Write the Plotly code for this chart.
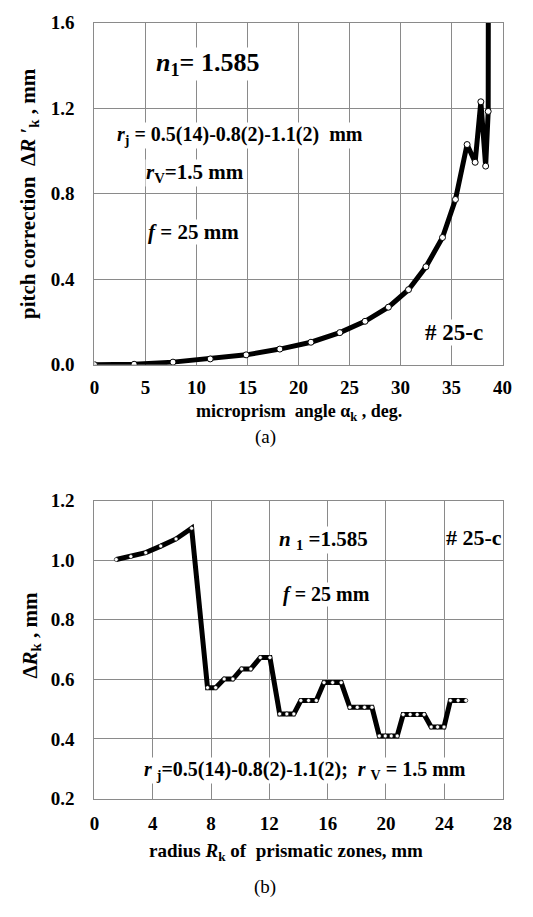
import plotly.graph_objects as go

# ---------------- data ----------------
# (a) pitch correction vs microprism angle
alpha_deg = [0, 3.89, 7.7, 11.35, 14.87, 18.17, 21.22, 24.05, 26.52, 28.81, 30.78,
             32.49, 34.11, 35.38, 36.52, 37.31, 37.87, 38.34, 38.59, 38.62]
pitch_corr = [0.0, 0.002, 0.012, 0.027, 0.046, 0.073, 0.105, 0.150, 0.203, 0.269, 0.351,
              0.458, 0.595, 0.773, 1.030, 0.947, 1.230, 0.929, 1.185, 2.4]

# (b) pitch vs radius of prismatic zones
radius_R = [1.5, 2.5, 3.52, 4.55, 5.6, 6.67, 7.76, 8.32, 8.9, 9.5, 10.1, 10.73, 11.38,
            12.04, 12.71, 13.2, 13.68, 14.16, 14.69, 15.22, 15.75, 16.34, 16.93, 17.52,
            18.03, 18.53, 19.04, 19.54, 19.95, 20.36, 20.77, 21.18, 21.66, 22.14, 22.62,
            23.1, 23.54, 23.98, 24.42, 24.95, 25.48]
delta_R = [1.002, 1.012, 1.025, 1.047, 1.071, 1.107, 0.572, 0.572, 0.601, 0.601, 0.635,
           0.635, 0.673, 0.673, 0.484, 0.484, 0.484, 0.529, 0.529, 0.529, 0.589, 0.589,
           0.589, 0.506, 0.506, 0.506, 0.506, 0.41, 0.41, 0.41, 0.41, 0.482, 0.482,
           0.482, 0.482, 0.44, 0.44, 0.44, 0.529, 0.529, 0.529]

top_xticks = [0, 5, 10, 15, 20, 25, 30, 35, 40]
top_yticks = [0.0, 0.4, 0.8, 1.2, 1.6]
bot_xticks = [0, 4, 8, 12, 16, 20, 24, 28]
bot_yticks = [0.2, 0.4, 0.6, 0.8, 1.0, 1.2]

# ---------------- layout helpers ----------------
W, H = 533, 917
def px(x):
    return x / W
def py(y):
    return 1 - y / H

SERIF = "Times New Roman, Liberation Serif, serif"
GRID = "#8a8a8a"

fig = go.Figure()

line_style = dict(color="black", width=5)
fig.add_trace(go.Scatter(
    x=alpha_deg, y=pitch_corr, mode="lines+markers", xaxis="x", yaxis="y",
    line=line_style,
    marker=dict(symbol="circle", size=6, color="white", line=dict(color="black", width=1)),
    showlegend=False))
fig.add_trace(go.Scatter(
    x=radius_R, y=delta_R, mode="lines+markers", xaxis="x2", yaxis="y2",
    line=line_style,
    marker=dict(symbol="circle", size=4, color="white", line=dict(color="black", width=0.6)),
    showlegend=False))

tickfont = dict(family=SERIF, size=19, color="black", weight="bold")
common_axis = dict(showgrid=True, gridcolor=GRID, gridwidth=1, showline=True,
                   linecolor=GRID, linewidth=1, mirror=True, zeroline=False,
                   ticks="", tickfont=tickfont)

xdom = [px(92), px(512)]
fig.update_layout(
    width=W, height=H, margin=dict(l=0, r=0, t=0, b=0),
    paper_bgcolor="white", plot_bgcolor="white",
    xaxis=dict(domain=xdom, range=[0, 40], tickvals=top_xticks, anchor="y",
               ticklabelstandoff=6, **common_axis),
    yaxis=dict(domain=[py(363), py(13)], range=[0, 1.6], tickvals=top_yticks,
               tickformat=".1f", anchor="x", ticklabelstandoff=15, **common_axis),
    xaxis2=dict(domain=xdom, range=[0, 28], tickvals=bot_xticks, anchor="y2",
                ticklabelstandoff=8, **common_axis),
    yaxis2=dict(domain=[py(807), py(502)], range=[0.2, 1.2], tickvals=bot_yticks,
                tickformat=".1f", anchor="x2", ticklabelstandoff=15, **common_axis),
)

def note(text, x, y, size, bg=True, angle=0, bold=True):
    fig.add_annotation(
        text=text, x=px(x), y=py(y), xref="paper", yref="paper",
        xanchor="center", yanchor="middle", showarrow=False, textangle=angle,
        font=dict(family=SERIF, size=size, color="black", weight="bold" if bold else "normal"),
        bgcolor="white" if bg else "rgba(0,0,0,0)", borderpad=0)

# top-chart annotations
note("<i>n</i><sub>1</sub>= 1.585", 208, 55, 26)
note("<i>r</i><sub>j</sub> = 0.5(14)-0.8(2)-1.1(2)  mm", 242, 128, 20)
note("<i>r</i><sub>V</sub>=1.5 mm", 195, 167, 21)
note("<i>f</i> = 25 mm", 194, 227, 21)
note("# 25-c", 462, 330, 23)
# top axis titles / caption
note("pitch correction  Δ<i>R</i> ′<sub>k</sub> , mm", 24, 188, 21, bg=False, angle=-90)
note("microprism  angle α<sub>k</sub> , deg.", 302, 412, 18, bg=False)
note("(a)", 268, 437, 19, bg=False, bold=False)

# bottom-chart annotations
note("<i>n</i> <sub>1</sub> =1.585", 328, 542, 21)
note("# 25-c", 483, 540, 22)
note("<i>f</i> = 25 mm", 331, 598, 20)
note("<i>r</i> <sub>j</sub>=0.5(14)-0.8(2)-1.1(2);  <i>r</i> <sub>V</sub> = 1.5 mm", 309, 778, 20)
# bottom axis titles / caption
note("Δ<i>R</i><sub>k</sub> , mm", 27, 640, 21, bg=False, angle=-90)
note("radius <i>R</i><sub>k</sub> of  prismatic zones, mm", 289, 862, 19, bg=False)
note("(b)", 268, 898, 19, bg=False, bold=False)

fig.write_html("out.html")
